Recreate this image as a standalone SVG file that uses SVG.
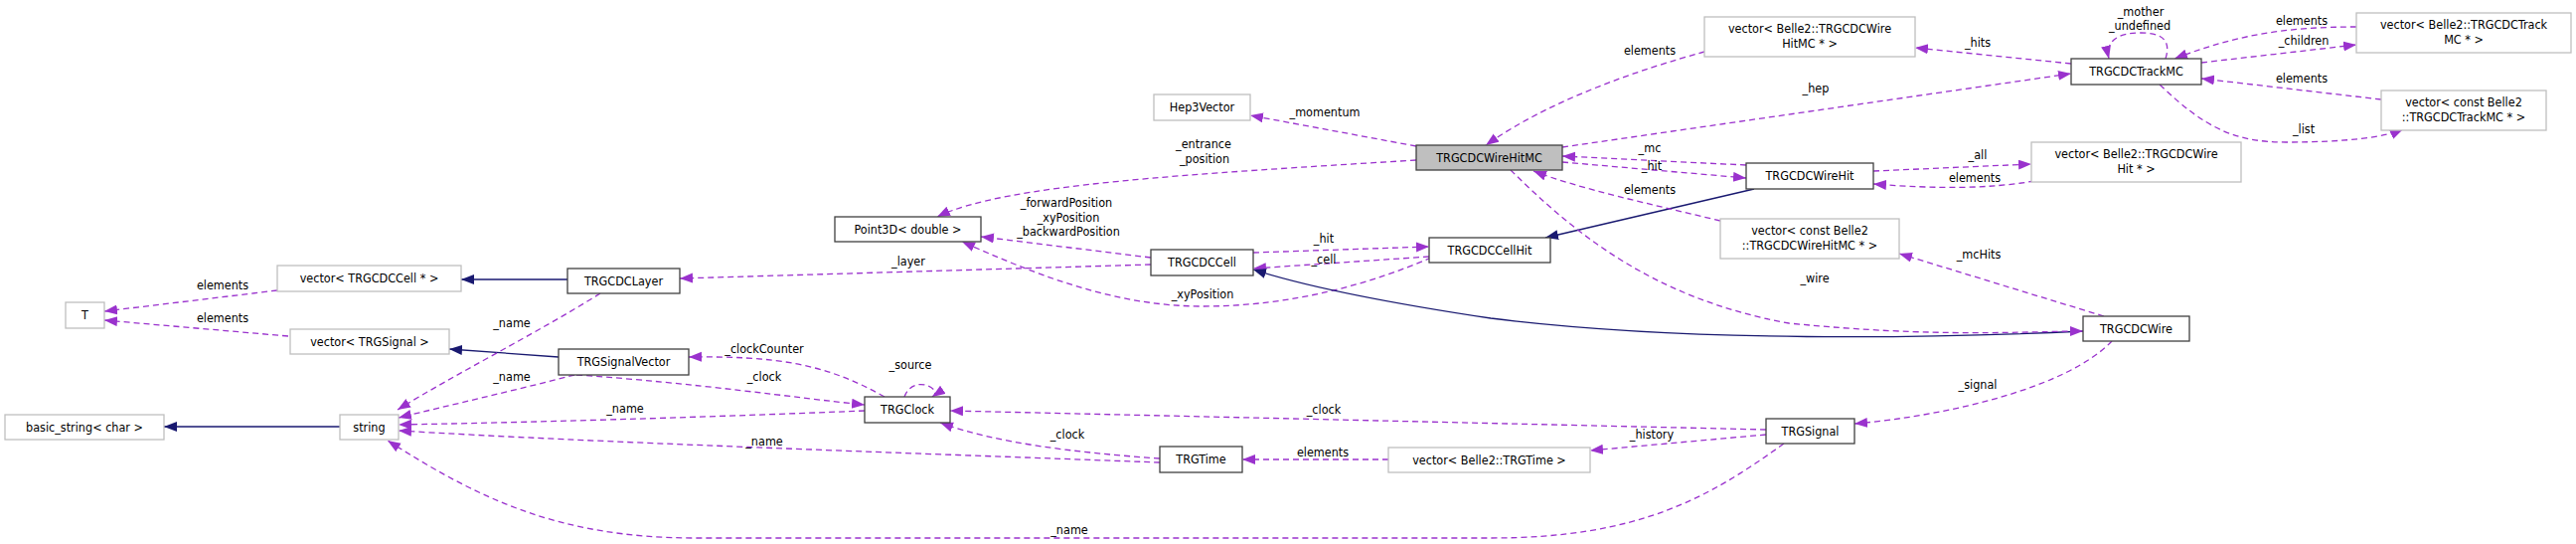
<svg xmlns="http://www.w3.org/2000/svg" width="2592" height="547" viewBox="0 0 2592 547">
<style>
text{font-family:"DejaVu Sans Condensed","DejaVu Sans",sans-serif;font-size:12.5px;fill:#000}
.n rect{fill:#fff;stroke:#404040;stroke-width:1.3}
.g rect{fill:#fff;stroke:#bfbfbf;stroke-width:1.3}
.n text,.g text{text-anchor:middle}
.e{fill:none;stroke:#9a32cd;stroke-width:1.3;stroke-dasharray:6,4;marker-end:url(#ap)}
.i{fill:none;stroke:#191970;stroke-width:1.3;marker-end:url(#an)}
.l{text-anchor:middle}
</style>
<defs>
<marker id="ap" markerUnits="userSpaceOnUse" markerWidth="14" markerHeight="12" refX="13" refY="5" orient="auto"><path d="M0,0 L13,5 L0,10 z" fill="#9a32cd"/></marker>
<marker id="an" markerUnits="userSpaceOnUse" markerWidth="14" markerHeight="12" refX="13" refY="5" orient="auto"><path d="M0,0 L13,5 L0,10 z" fill="#191970"/></marker>
</defs>
<rect width="2592" height="547" fill="#fff"/>
<g id="connectors">
<path class="e" d="M279,292 L105,313"/>
<path class="e" d="M290,338 L105,322"/>
<path class="i" d="M571,281 L464,281"/>
<path class="i" d="M562,359 L452,351"/>
<path class="i" d="M342,429 L165,429"/>
<path class="e" d="M604,295 C540,335 460,375 400,412"/>
<path class="e" d="M578,377 C520,392 450,408 401,420"/>
<path class="e" d="M870,413 C700,420 520,425 401,427"/>
<path class="e" d="M1167,465 C900,455 600,445 401,433"/>
<path class="e" d="M1795,446 C1720,500 1650,541 1500,541 L700,541 C560,541 480,500 390,443"/>
<path class="e" d="M1158,259 L987,238"/>
<path class="e" d="M1425,161 C1200,175 1010,185 943,218"/>
<path class="e" d="M1440,259 C1380,285 1300,308 1210,308 C1120,308 1040,275 968,243"/>
<path class="e" d="M1158,266 L684,280"/>
<path class="e" d="M1261,254 L1438,248"/>
<path class="e" d="M1438,258 L1261,270"/>
<path class="i" d="M1765,190 L1555,239"/>
<path class="i" d="M2096,333 C1950,340 1700,345 1500,320 C1400,305 1320,290 1261,271"/>
<path class="e" d="M1425,147 L1258,116"/>
<path class="e" d="M2084,64 L1927,48"/>
<path class="e" d="M1715,52 C1650,70 1560,100 1495,146"/>
<path class="e" d="M1572,148 L2084,74"/>
<path class="e" d="M2179,59 C2185,40 2175,33 2154,33 C2130,33 2118,42 2122,59"/>
<path class="e" d="M2371,27 C2300,27 2250,35 2188,59"/>
<path class="e" d="M2215,63 L2371,45"/>
<path class="e" d="M2396,100 L2215,79"/>
<path class="e" d="M2173,85 C2220,130 2250,143 2300,143 C2360,143 2400,138 2418,130"/>
<path class="e" d="M1757,166 L1572,157"/>
<path class="e" d="M1572,163 L1757,179"/>
<path class="e" d="M1885,172 L2044,165"/>
<path class="e" d="M2047,182 C2000,190 1950,190 1885,185"/>
<path class="e" d="M1731,222 C1660,205 1590,190 1543,172"/>
<path class="e" d="M1520,171 C1580,230 1660,300 1800,325 C1950,340 2040,333 2096,333"/>
<path class="e" d="M2117,318 L1911,255"/>
<path class="e" d="M2125,343 C2080,390 1960,418 1866,426"/>
<path class="e" d="M1777,432 L956,413"/>
<path class="e" d="M1777,437 L1600,453"/>
<path class="e" d="M1397,462 L1250,462"/>
<path class="e" d="M1167,461 C1080,455 1000,445 946,425"/>
<path class="e" d="M580,377 C700,385 800,400 870,407"/>
<path class="e" d="M890,399 C830,365 780,358 693,359"/>
<path class="e" d="M910,399 C915,385 930,383 940,392 C942,394 941,397 938,399"/>
</g>
<g id="labels">
<text class="l" x="224" y="291">elements</text>
<text class="l" x="224" y="324">elements</text>
<text class="l" x="515" y="329">_name</text>
<text class="l" x="515" y="383">_name</text>
<text class="l" x="629" y="415">_name</text>
<text class="l" x="1073" y="208">_forwardPosition</text>
<text class="l" x="1075" y="223">_xyPosition</text>
<text class="l" x="1075" y="237">_backwardPosition</text>
<text class="l" x="914" y="267">_layer</text>
<text class="l" x="1332" y="244">_hit</text>
<text class="l" x="1332" y="265">_cell</text>
<text class="l" x="1210" y="300">_xyPosition</text>
<text class="l" x="769" y="355">_clockCounter</text>
<text class="l" x="916" y="371">_source</text>
<text class="l" x="769" y="383">_clock</text>
<text class="l" x="1332" y="416">_clock</text>
<text class="l" x="1074" y="441">_clock</text>
<text class="l" x="769" y="448">_name</text>
<text class="l" x="1331" y="459">elements</text>
<text class="l" x="1076" y="537">_name</text>
<text class="l" x="1333" y="117">_momentum</text>
<text class="l" x="1211" y="149">_entrance</text>
<text class="l" x="1212" y="164">_position</text>
<text class="l" x="2154" y="16">_mother</text>
<text class="l" x="2153" y="30">_undefined</text>
<text class="l" x="2316" y="25">elements</text>
<text class="l" x="2318" y="45">_children</text>
<text class="l" x="1990" y="47">_hits</text>
<text class="l" x="1660" y="55">elements</text>
<text class="l" x="1827" y="93">_hep</text>
<text class="l" x="2316" y="83">elements</text>
<text class="l" x="2318" y="134">_list</text>
<text class="l" x="1660" y="153">_mc</text>
<text class="l" x="1990" y="160">_all</text>
<text class="l" x="1662" y="171">_hit</text>
<text class="l" x="1987" y="183">elements</text>
<text class="l" x="1660" y="195">elements</text>
<text class="l" x="1991" y="260">_mcHits</text>
<text class="l" x="1826" y="284">_wire</text>
<text class="l" x="1990" y="391">_signal</text>
<text class="l" x="1662" y="441">_history</text>
</g>
<g id="T" class="g"><rect x="66" y="304" width="39" height="26"/><text x="85.5" y="321">T</text></g>
<g id="vecCell" class="g"><rect x="279" y="267" width="185" height="26"/><text x="371.5" y="284">vector&lt; TRGCDCCell * &gt;</text></g>
<g id="vecSignal" class="g"><rect x="292" y="331" width="160" height="25"/><text x="372" y="348">vector&lt; TRGSignal &gt;</text></g>
<g id="TRGCDCLayer" class="n"><rect x="571" y="270" width="113" height="25"/><text x="627.5" y="287">TRGCDCLayer</text></g>
<g id="TRGSignalVector" class="n"><rect x="562" y="351" width="131" height="26"/><text x="627.5" y="368">TRGSignalVector</text></g>
<g id="basic_string" class="g"><rect x="5" y="417" width="160" height="25"/><text x="85" y="434">basic_string&lt; char &gt;</text></g>
<g id="string" class="g"><rect x="342" y="417" width="59" height="25"/><text x="371.5" y="434">string</text></g>
<g id="Point3D" class="n"><rect x="840" y="218" width="147" height="25"/><text x="913.5" y="235">Point3D&lt; double &gt;</text></g>
<g id="TRGCDCCell" class="n"><rect x="1158" y="251" width="103" height="26"/><text x="1209.5" y="268">TRGCDCCell</text></g>
<g id="TRGClock" class="n"><rect x="870" y="399" width="86" height="26"/><text x="913" y="416">TRGClock</text></g>
<g id="TRGTime" class="n"><rect x="1167" y="449" width="83" height="26"/><text x="1208.5" y="466">TRGTime</text></g>
<g id="Hep3Vector" class="g"><rect x="1161" y="95" width="97" height="26"/><text x="1209.5" y="112">Hep3Vector</text></g>
<g id="TRGCDCWireHitMC" class="n"><rect x="1425" y="146" width="147" height="25" style="fill:#bfbfbf"/><text x="1498.5" y="163">TRGCDCWireHitMC</text></g>
<g id="TRGCDCCellHit" class="n"><rect x="1438" y="239" width="122" height="25"/><text x="1499" y="256">TRGCDCCellHit</text></g>
<g id="vecWireHitMCp" class="g"><rect x="1715" y="17" width="212" height="40"/><text x="1821" y="33">vector&lt; Belle2::TRGCDCWire</text><text x="1821" y="48">HitMC * &gt;</text></g>
<g id="TRGCDCTrackMC" class="n"><rect x="2084" y="59" width="131" height="26"/><text x="2149.5" y="76">TRGCDCTrackMC</text></g>
<g id="vecTrackMCp" class="g"><rect x="2371" y="13" width="216" height="40"/><text x="2479" y="29">vector&lt; Belle2::TRGCDCTrack</text><text x="2479" y="44">MC * &gt;</text></g>
<g id="vecConstTrackMCp" class="g"><rect x="2396" y="91" width="166" height="40"/><text x="2479" y="107">vector&lt; const Belle2</text><text x="2479" y="122">::TRGCDCTrackMC * &gt;</text></g>
<g id="TRGCDCWireHit" class="n"><rect x="1757" y="164" width="128" height="26"/><text x="1821" y="181">TRGCDCWireHit</text></g>
<g id="vecWireHitp" class="g"><rect x="2044" y="143" width="211" height="40"/><text x="2149.5" y="159">vector&lt; Belle2::TRGCDCWire</text><text x="2149.5" y="174">Hit * &gt;</text></g>
<g id="vecConstWireHitMCp" class="g"><rect x="1731" y="220" width="180" height="40"/><text x="1821" y="236">vector&lt; const Belle2</text><text x="1821" y="251">::TRGCDCWireHitMC * &gt;</text></g>
<g id="TRGCDCWire" class="n"><rect x="2096" y="318" width="107" height="25"/><text x="2149.5" y="335">TRGCDCWire</text></g>
<g id="TRGSignal" class="n"><rect x="1777" y="421" width="89" height="25"/><text x="1821.5" y="438">TRGSignal</text></g>
<g id="vecTRGTime" class="g"><rect x="1397" y="450" width="203" height="25"/><text x="1498.5" y="467">vector&lt; Belle2::TRGTime &gt;</text></g>
</svg>
